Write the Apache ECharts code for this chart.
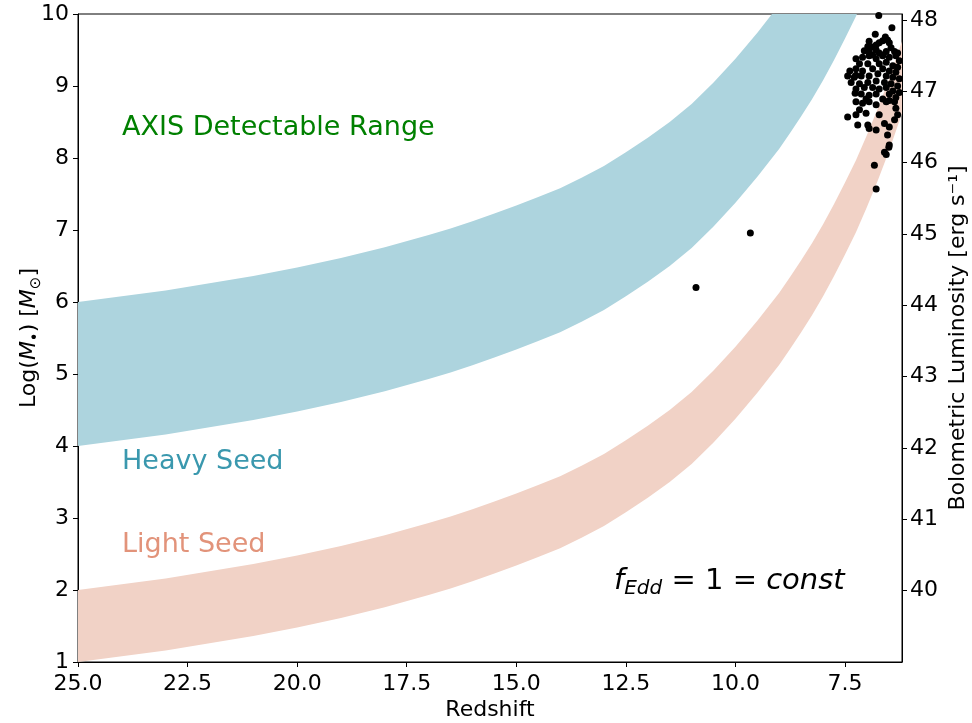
<!DOCTYPE html>
<html>
<head>
<meta charset="utf-8">
<script src="https://cdn.jsdelivr.net/npm/echarts@6/dist/echarts.min.js"></script>
<style>
html,body{margin:0;padding:0;background:#fff;}
#chart{width:972px;height:723px;}
</style>
</head>
<body>
<div id="chart"></div>
<script>
// Redshift sample points where the band edges were read
const zGrid = [25,24,23,22,21,20,19,18,17,16.5,16,15.5,15,14.5,14,13.5,13,12.5,12,11.5,11,10.5,10,9.5,9,8.75,8.5,8.25,8,7.75,7.5,7.25,7,6.75,6.5,6.2];
const heavyLow  = [4.00,4.08,4.16,4.26,4.36,4.48,4.61,4.76,4.93,5.02,5.12,5.23,5.34,5.46,5.58,5.73,5.89,6.08,6.28,6.50,6.75,7.05,7.38,7.74,8.13,8.35,8.58,8.82,9.08,9.36,9.66,9.97,10.32,10.69,11.09,11.62];
const heavyHigh = [6.00,6.08,6.16,6.26,6.36,6.48,6.61,6.76,6.93,7.02,7.12,7.23,7.34,7.46,7.58,7.73,7.89,8.08,8.28,8.50,8.75,9.05,9.38,9.74,10.13,10.35,10.58,10.82,11.08,11.36,11.66,11.97,12.32,12.69,13.09,13.62];
const lightLow  = [1.00,1.08,1.16,1.26,1.36,1.48,1.61,1.76,1.93,2.02,2.12,2.23,2.34,2.46,2.58,2.73,2.89,3.08,3.28,3.50,3.75,4.05,4.38,4.74,5.13,5.35,5.58,5.82,6.08,6.36,6.66,6.97,7.32,7.69,8.09,8.62];
const lightHigh = [2.00,2.08,2.16,2.26,2.36,2.48,2.61,2.76,2.93,3.02,3.12,3.23,3.34,3.46,3.58,3.73,3.89,4.08,4.28,4.50,4.75,5.05,5.38,5.74,6.13,6.35,6.58,6.82,7.08,7.36,7.66,7.97,8.32,8.69,9.09,9.62];

// Observed quasars: redshift and log black hole mass
const qsoZ = [6.73,6.43,6.81,6.58,6.53,6.64,6.72,6.79,6.87,6.95,6.98,7.06,6.95,6.79,6.72,6.56,6.49,6.45,6.37,6.30,6.64,6.87,
  7.25,7.10,6.95,6.79,6.64,6.49,6.34,6.26,7.17,6.98,6.72,6.56,6.41,6.30,7.25,7.10,6.87,6.64,6.49,6.34,7.44,7.29,7.13,6.95,6.75,6.56,6.41,6.26,
  7.36,7.17,6.98,6.79,6.60,6.45,6.30,7.25,7.06,6.87,6.72,6.56,6.41,6.26,7.13,6.95,6.79,6.49,6.34,7.02,6.64,6.49,
  7.25,7.10,6.95,6.79,6.56,6.37,6.34,7.17,7.44,7.25,7.02,6.72,6.30,7.21,6.98,6.95,6.79,6.60,6.49,6.37,6.53,6.49,
  6.50,6.60,6.56,6.83,6.79,7.39,7.25,7.27,10.9,9.66];
const qsoM = [9.98,9.81,9.72,9.68,9.64,9.63,9.60,9.57,9.54,9.62,9.55,9.49,9.48,9.50,9.46,9.48,9.60,9.53,9.48,9.46,9.43,9.43,
  9.38,9.40,9.42,9.38,9.42,9.40,9.42,9.35,9.31,9.31,9.31,9.33,9.28,9.26,9.24,9.21,9.24,9.24,9.21,9.19,9.14,9.12,9.14,9.14,9.17,9.14,9.12,9.10,
  9.05,9.03,9.05,9.07,9.05,9.03,9.00,8.96,8.98,8.98,8.96,8.98,8.93,8.91,8.89,8.87,8.89,8.89,8.84,8.82,8.82,8.80,
  8.78,8.76,8.78,8.74,8.78,8.78,8.69,8.67,8.57,8.60,8.62,8.60,8.60,8.46,8.46,8.41,8.39,8.48,8.43,8.53,8.32,8.18,
  8.15,8.08,8.05,7.90,7.57,9.21,9.15,8.90,6.20,6.96];

const xTicks = [25,22.5,20,17.5,15,12.5,10,7.5];
const lumTicks = [40,41,42,43,44,45,46,47,48];

const FONT = 'DejaVu Sans';
const chart = echarts.init(document.getElementById('chart'), null, {renderer:'canvas'});

function bandRenderer(lowArr, highArr, color) {
  return function (params, api) {
    const pts = [];
    for (let i = 0; i < zGrid.length; i++) pts.push(api.coord([zGrid[i], highArr[i]]));
    for (let i = zGrid.length - 1; i >= 0; i--) pts.push(api.coord([zGrid[i], lowArr[i]]));
    const cs = params.coordSys;
    return {
      type: 'polygon',
      shape: {points: pts},
      style: {fill: color, stroke: null},
      clipPath: {type: 'rect', shape: {x: cs.x, y: cs.y, width: cs.width, height: cs.height}}
    };
  };
}

const axisLineStyle = {color:'#000', width:1};
const tickStyle = {show:true, inside:false, length:5, lineStyle:{color:'#000', width:1}};
const labelStyle = {color:'#000', fontSize:22, fontFamily:FONT};

const option = {
  animation: false,
  backgroundColor: '#fff',
  grid: {left:78, right:70, top:14, bottom:61, containLabel:false, outerBoundsMode:'none',
         show:true, borderColor:'#000', borderWidth:1, backgroundColor:'transparent'},
  xAxis: {
    type:'value', inverse:true, min:6.2, max:25,
    name:'Redshift', nameLocation:'middle', nameGap:37, nameMoveOverlap:false,
    nameTextStyle:{color:'#000', fontSize:22, fontFamily:FONT},
    axisLine:{show:true, lineStyle:axisLineStyle},
    axisTick:Object.assign({customValues:xTicks}, tickStyle),
    axisLabel:Object.assign({customValues:xTicks, margin:11, formatter:v=>Number(v).toFixed(1)}, labelStyle),
    splitLine:{show:false}
  },
  yAxis: [
    {
      type:'value', min:1, max:10, interval:1, position:'left',
      name:'{n|Log(}{i|M}{s|•}{n|) [}{i|M}{s|⊙}{n|]}',
      nameLocation:'middle', nameGap:34, nameRotate:90, nameMoveOverlap:false,
      nameTextStyle:{
        color:'#000', fontSize:22, fontFamily:FONT,
        rich:{
          n:{fontSize:22, fontFamily:FONT, color:'#000', lineHeight:30},
          i:{fontSize:22, fontFamily:FONT, fontStyle:'italic', color:'#000', lineHeight:30},
          s:{fontSize:15, fontFamily:FONT, color:'#000', lineHeight:16, verticalAlign:'bottom'}
        }
      },
      axisLine:{show:true, lineStyle:axisLineStyle},
      axisTick:tickStyle,
      axisLabel:Object.assign({margin:9}, labelStyle),
      splitLine:{show:false}
    },
    {
      type:'value', min:39, max:48.084, position:'right',
      name:'Bolometric Luminosity [erg s⁻¹]',
      nameLocation:'middle', nameGap:45, nameRotate:90, nameMoveOverlap:false,
      nameTextStyle:{color:'#000', fontSize:22, fontFamily:FONT},
      axisLine:{show:true, lineStyle:axisLineStyle},
      axisTick:Object.assign({customValues:lumTicks}, tickStyle),
      axisLabel:Object.assign({customValues:lumTicks, margin:8}, labelStyle),
      splitLine:{show:false}
    }
  ],
  series: [
    {type:'custom', name:'Heavy Seed', renderItem:bandRenderer(heavyLow, heavyHigh, '#ADD4DE'), data:[[zGrid[0], heavyLow[0]]], z:1, silent:true},
    {type:'custom', name:'Light Seed', renderItem:bandRenderer(lightLow, lightHigh, '#F1D2C6'), data:[[zGrid[0], lightLow[0]]], z:1, silent:true},
    {type:'scatter', name:'Quasars', data:qsoZ.map((z,i)=>[z, qsoM[i]]), symbol:'circle', symbolSize:7,
     itemStyle:{color:'#000', opacity:1}, z:3, clip:false}
  ],
  graphic: [
    {type:'text', x:122, y:128, z:10, style:{text:'AXIS Detectable Range', fill:'#008000', fontSize:27, fontFamily:FONT, verticalAlign:'middle'}},
    {type:'text', x:122, y:462, z:10, style:{text:'Heavy Seed', fill:'#3A98AE', fontSize:27, fontFamily:FONT, verticalAlign:'middle'}},
    {type:'text', x:122, y:545, z:10, style:{text:'Light Seed', fill:'#E2937A', fontSize:27, fontFamily:FONT, verticalAlign:'middle'}},
    {type:'text', x:614, y:581, z:10, style:{
      text:'{i|f}{s|Edd}{n| = 1 = }{i|const}',
      verticalAlign:'middle',
      rich:{
        i:{fontSize:29, fontFamily:FONT, fontStyle:'italic', fill:'#000', lineHeight:36},
        n:{fontSize:29, fontFamily:FONT, fill:'#000', lineHeight:36},
        s:{fontSize:20, fontFamily:FONT, fontStyle:'italic', fill:'#000', lineHeight:18, verticalAlign:'bottom'}
      }
    }}
  ]
};
chart.setOption(option);
</script>
</body>
</html>
